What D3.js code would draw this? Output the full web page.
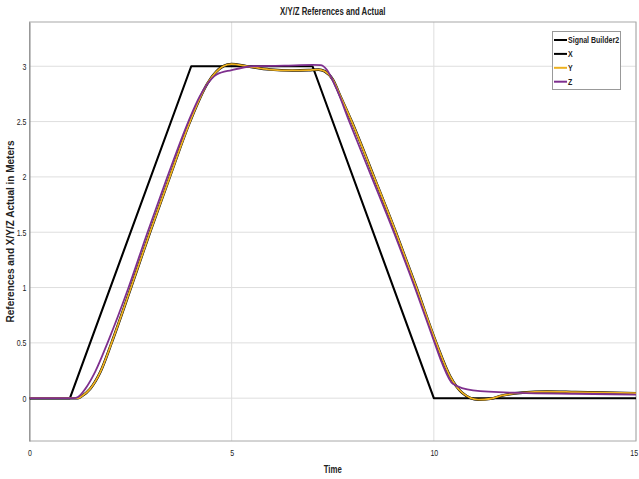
<!DOCTYPE html>
<html><head><meta charset="utf-8">
<script src="https://cdn.jsdelivr.net/npm/d3@7"></script>
<style>
html,body{margin:0;padding:0;background:#fff;}
svg{display:block;}
text{fill:#222;}
</style></head>
<body><svg id="chart" width="639" height="479"></svg>
<script>
// ---- data ----
const title = "X/Y/Z References and Actual";
const xLabel = "Time";
const yLabel = "References and X/Y/Z Actual in Meters";
const seriesNames = ["Signal Builder2", "X", "Y", "Z"];
const seriesColors = ["#000000", "#000000", "#EDB120", "#7E2F8E"];
const xTicks = [0, 5, 10, 15];
const yTicks = [0, 0.5, 1, 1.5, 2, 2.5, 3];

const refT = [0, 1, 4, 7, 10, 15];
const refV = [0, 0, 3, 3, 0, 0];

const yT = [0, 1.2, 1.3, 1.5, 1.75, 2.03, 2.51, 2.98, 3.47, 3.97, 4.41, 4.79, 5.0, 5.37, 5.95, 6.5, 6.9, 7.15, 7.3, 7.5, 7.7, 7.97, 8.52, 9.06, 9.57, 10.06, 10.4, 10.7, 11.1, 11.4, 11.7, 12.2, 12.8, 13.5, 14.2, 15];
const yV = [0, 0, 0.02, 0.084, 0.235, 0.5, 1.0, 1.5, 2.0, 2.5, 2.85, 3.0, 3.02, 3.0, 2.97, 2.962, 2.965, 2.97, 2.955, 2.88, 2.72, 2.5, 2.0, 1.5, 1.0, 0.5, 0.2, 0.05, -0.013, -0.005, 0.025, 0.05, 0.06, 0.055, 0.05, 0.045];

// X actual lies underneath Y in the picture
const xT = yT;
const xV = yV;

const zT = [0, 1.1, 1.2, 1.38, 1.62, 1.93, 2.45, 2.92, 3.41, 3.93, 4.2, 4.38, 4.63, 5.0, 5.53, 6.3, 7.0, 7.2, 7.35, 7.6, 7.91, 8.46, 9.01, 9.53, 10.02, 10.2, 10.47, 10.97, 12.1, 13.5, 15];
const zV = [0, 0, 0.01, 0.084, 0.235, 0.5, 1.0, 1.5, 2.0, 2.5, 2.72, 2.83, 2.925, 2.965, 3.0, 3.005, 3.012, 3.01, 2.97, 2.79, 2.5, 2.0, 1.5, 1.0, 0.5, 0.32, 0.13, 0.07, 0.048, 0.04, 0.033];

// ---- layout ----
const svg = d3.select("#chart");
const L = 29.5, R = 636, T = 22, B = 441;
const x = d3.scaleLinear().domain([0, 15]).range([L, R]);
const y = d3.scaleLinear().domain([-0.387, 3.4]).range([B, T]);
const font = "'Liberation Sans',Arial,sans-serif";
const SQ = 0.78; // horizontal squeeze of the narrow-looking text

// grid
const g = svg.append("g");
g.selectAll("line.gx").data(xTicks).enter().append("line")
  .attr("x1", d => x(d)).attr("x2", d => x(d)).attr("y1", T).attr("y2", B)
  .attr("stroke", "#dedede").attr("stroke-width", 1);
g.selectAll("line.gy").data(yTicks).enter().append("line")
  .attr("x1", L).attr("x2", R).attr("y1", d => y(d)).attr("y2", d => y(d))
  .attr("stroke", "#dedede").attr("stroke-width", 1);

// frame
svg.append("rect").attr("x", L).attr("y", T).attr("width", R - L).attr("height", B - T)
  .attr("fill", "none").attr("stroke", "#a8a8a8").attr("stroke-width", 1);

// axes
const xAxis = svg.append("g").attr("transform", `translate(0,${B})`)
  .call(d3.axisBottom(x).tickValues(xTicks).tickSize(0).tickPadding(9).tickFormat(d3.format("d")));
const yAxis = svg.append("g").attr("transform", `translate(${L},0)`)
  .call(d3.axisLeft(y).tickValues(yTicks).tickSize(0).tickPadding(4).tickFormat(d => String(d)));
[xAxis, yAxis].forEach(a => {
  a.select(".domain").attr("stroke", "#888");
  a.selectAll("text").attr("font-family", font).attr("font-size", 9).attr("fill", "#333")
    .attr("transform", `scale(${SQ},1)`);
});
xAxis.select(".domain").remove();
xAxis.selectAll(".tick").filter(d => d === 15).select("text").attr("text-anchor", "end").attr("x", 2);

// labels
function sqText(px, py, txt, size) {
  return svg.append("g").attr("transform", `translate(${px},${py}) scale(${SQ},1)`)
    .append("text").attr("text-anchor", "middle").attr("font-family", font)
    .attr("font-weight", "bold").attr("font-size", size).text(txt);
}
sqText((L + R) / 2, 15, title, 10);
sqText((L + R) / 2, 473, xLabel, 10);
svg.append("text").attr("transform", `translate(14,${(T + B) / 2}) rotate(-90)`)
  .attr("text-anchor", "middle").attr("font-family", font)
  .attr("font-weight", "bold").attr("font-size", 10).text(yLabel);

// lines
svg.append("clipPath").attr("id", "clip").append("rect")
  .attr("x", L).attr("y", T).attr("width", R - L).attr("height", B - T);
const plot = svg.append("g").attr("clip-path", "url(#clip)");
const mk = (ts, vs) => ts.map((t, i) => [t, vs[i]]);
const series = [
  {data: mk(refT, refV), curve: d3.curveLinear, w: 2.1},
  {data: mk(xT, xV), curve: d3.curveMonotoneX, w: 2.6},
  {data: mk(yT, yV), curve: d3.curveMonotoneX, w: 1.8},
  {data: mk(zT, zV), curve: d3.curveMonotoneX, w: 1.8}
];
series.forEach((s, i) => {
  plot.append("path").datum(s.data)
    .attr("fill", "none").attr("stroke", seriesColors[i]).attr("stroke-width", s.w)
    .attr("stroke-linejoin", "round")
    .attr("d", d3.line().x(d => x(d[0])).y(d => y(d[1])).curve(s.curve));
});

// legend
const lg = svg.append("g");
lg.append("rect").attr("x", 552.5).attr("y", 31.5).attr("width", 68).attr("height", 58)
  .attr("fill", "#fff").attr("stroke", "#999").attr("stroke-width", 1);
seriesNames.forEach((n, i) => {
  const yy = 40 + i * 13.9;
  lg.append("line").attr("x1", 554).attr("x2", 567).attr("y1", yy).attr("y2", yy)
    .attr("stroke", seriesColors[i]).attr("stroke-width", 2);
  lg.append("g").attr("transform", `translate(568,${yy + 3.2}) scale(${SQ},1)`)
    .append("text").attr("font-family", font).attr("font-weight", "bold")
    .attr("font-size", 9).text(n);
});
</script></body></html>
